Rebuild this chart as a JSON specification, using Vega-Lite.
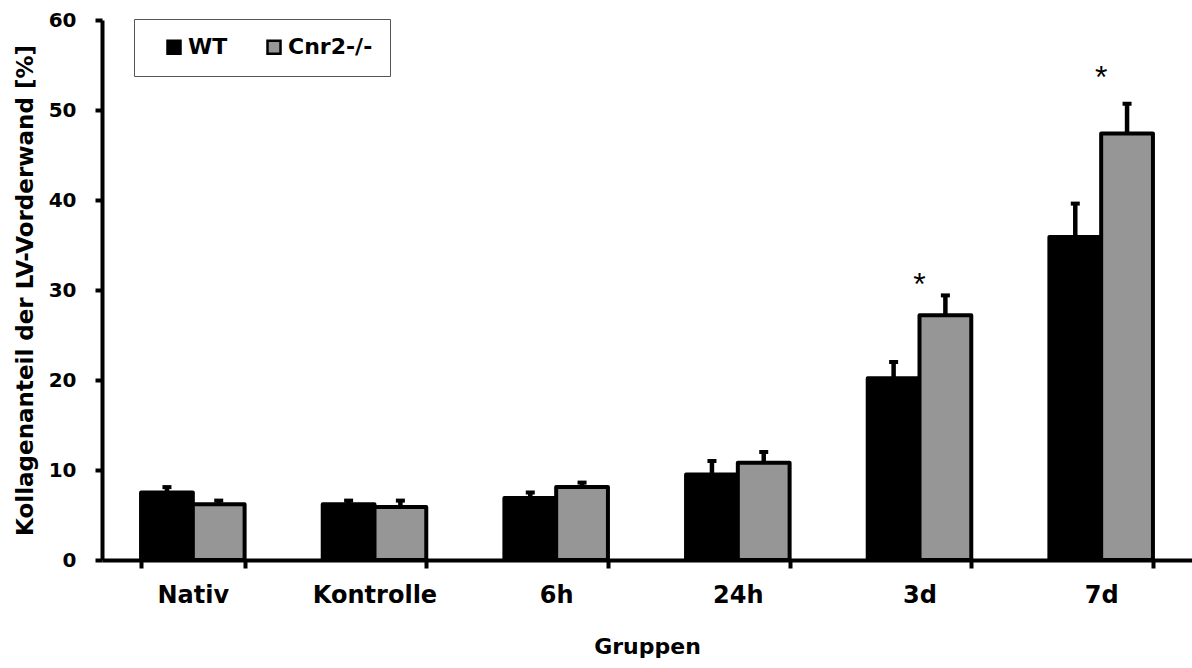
{
  "$schema": "https://vega.github.io/schema/vega-lite/v6.json",
  "width": 1090,
  "height": 540,
  "autosize": {"type": "none"},
  "padding": {"left": 102, "top": 20, "right": 0, "bottom": 108},
  "background": "white",
  "config": {"view": {"stroke": null}, "font": "DejaVu Sans"},
  "datasets": {
    "bars": [
      {"Gruppe": "Nativ", "Genotyp": "WT", "Mittelwert": 7.5, "Obergrenze": 8.1},
      {"Gruppe": "Nativ", "Genotyp": "Cnr2-/-", "Mittelwert": 6.2, "Obergrenze": 6.6},
      {"Gruppe": "Kontrolle", "Genotyp": "WT", "Mittelwert": 6.2, "Obergrenze": 6.6},
      {"Gruppe": "Kontrolle", "Genotyp": "Cnr2-/-", "Mittelwert": 5.9, "Obergrenze": 6.6},
      {"Gruppe": "6h", "Genotyp": "WT", "Mittelwert": 6.9, "Obergrenze": 7.5},
      {"Gruppe": "6h", "Genotyp": "Cnr2-/-", "Mittelwert": 8.1, "Obergrenze": 8.6},
      {"Gruppe": "24h", "Genotyp": "WT", "Mittelwert": 9.5, "Obergrenze": 11.0},
      {"Gruppe": "24h", "Genotyp": "Cnr2-/-", "Mittelwert": 10.8, "Obergrenze": 12.0},
      {"Gruppe": "3d", "Genotyp": "WT", "Mittelwert": 20.2, "Obergrenze": 22.0},
      {"Gruppe": "3d", "Genotyp": "Cnr2-/-", "Mittelwert": 27.2, "Obergrenze": 29.4},
      {"Gruppe": "7d", "Genotyp": "WT", "Mittelwert": 35.9, "Obergrenze": 39.6},
      {"Gruppe": "7d", "Genotyp": "Cnr2-/-", "Mittelwert": 47.4, "Obergrenze": 50.7}
    ],
    "stars": [
      {"Gruppe": "3d", "Position": 30.6, "Zeichen": "*"},
      {"Gruppe": "7d", "Position": 53.6, "Zeichen": "*"}
    ]
  },
  "layer": [
    {
      "data": {"name": "bars"},
      "mark": {"type": "bar", "stroke": "black", "strokeWidth": 4, "strokeJoin": "round"},
      "encoding": {
        "x": {
          "field": "Gruppe", "type": "nominal",
          "sort": ["Nativ", "Kontrolle", "6h", "24h", "3d", "7d"],
          "scale": {"paddingInner": 0.43, "paddingOuter": 0.215},
          "title": "Gruppen",
          "axis": {
            "tickBand": "extent", "labelAngle": 0,
            "domainWidth": 4, "domainColor": "black",
            "tickWidth": 4, "tickColor": "black", "tickSize": 8,
            "labelFont": "DejaVu Sans", "labelFontWeight": "bold", "labelFontSize": 24, "labelColor": "black", "labelPadding": 15,
            "titleFont": "DejaVu Sans", "titleFontWeight": "bold", "titleFontSize": 22, "titleColor": "black", "titlePadding": 29
          }
        },
        "xOffset": {"field": "Genotyp", "type": "nominal", "sort": ["WT", "Cnr2-/-"], "scale": {"paddingInner": 0, "paddingOuter": 0}},
        "y": {
          "field": "Mittelwert", "type": "quantitative",
          "scale": {"domain": [0, 60], "nice": false},
          "title": "Kollagenanteil der LV-Vorderwand [%]",
          "axis": {
            "values": [0, 10, 20, 30, 40, 50, 60], "grid": false,
            "domainWidth": 4, "domainColor": "black",
            "tickWidth": 4, "tickColor": "black", "tickSize": 7,
            "labelFont": "DejaVu Sans", "labelFontWeight": "bold", "labelFontSize": 20, "labelColor": "black", "labelPadding": 19,
            "titleFont": "DejaVu Sans", "titleFontWeight": "bold", "titleFontSize": 23, "titleColor": "black", "titlePadding": 11
          }
        },
        "color": {
          "field": "Genotyp", "type": "nominal",
          "scale": {"domain": ["WT", "Cnr2-/-"], "range": ["black", "#969696"]},
          "legend": {
            "orient": "none", "legendX": 32, "legendY": -1, "direction": "horizontal",
            "title": " ", "titleOrient": "left", "titlePadding": 12,
            "padding": 17, "strokeColor": "#555555", "fillColor": "white",
            "symbolType": "square", "symbolSize": 169, "symbolStrokeColor": "black", "symbolStrokeWidth": 2.5,
            "labelFont": "DejaVu Sans", "labelFontWeight": "bold", "labelFontSize": 22, "labelColor": "black", "labelOffset": 3,
            "columnPadding": 34
          }
        }
      }
    },
    {
      "data": {"name": "bars"},
      "mark": {"type": "rule", "strokeWidth": 4.5, "color": "black"},
      "encoding": {
        "x": {"field": "Gruppe", "type": "nominal", "sort": ["Nativ", "Kontrolle", "6h", "24h", "3d", "7d"], "title": "Gruppen"},
        "xOffset": {"field": "Genotyp", "type": "nominal", "sort": ["WT", "Cnr2-/-"]},
        "y": {"field": "Mittelwert", "type": "quantitative", "title": "Kollagenanteil der LV-Vorderwand [%]"},
        "y2": {"field": "Obergrenze"}
      }
    },
    {
      "data": {"name": "bars"},
      "mark": {"type": "tick", "thickness": 4, "size": 9, "color": "black", "opacity": 1},
      "encoding": {
        "x": {"field": "Gruppe", "type": "nominal", "sort": ["Nativ", "Kontrolle", "6h", "24h", "3d", "7d"], "title": "Gruppen"},
        "xOffset": {"field": "Genotyp", "type": "nominal", "sort": ["WT", "Cnr2-/-"]},
        "y": {"field": "Obergrenze", "type": "quantitative", "title": "Kollagenanteil der LV-Vorderwand [%]"}
      }
    },
    {
      "data": {"name": "stars"},
      "mark": {"type": "text", "font": "Liberation Sans", "fontSize": 32, "baseline": "middle", "color": "black"},
      "encoding": {
        "x": {"field": "Gruppe", "type": "nominal", "sort": ["Nativ", "Kontrolle", "6h", "24h", "3d", "7d"], "title": "Gruppen"},
        "y": {"field": "Position", "type": "quantitative", "title": "Kollagenanteil der LV-Vorderwand [%]"},
        "text": {"field": "Zeichen"}
      }
    }
  ]
}
